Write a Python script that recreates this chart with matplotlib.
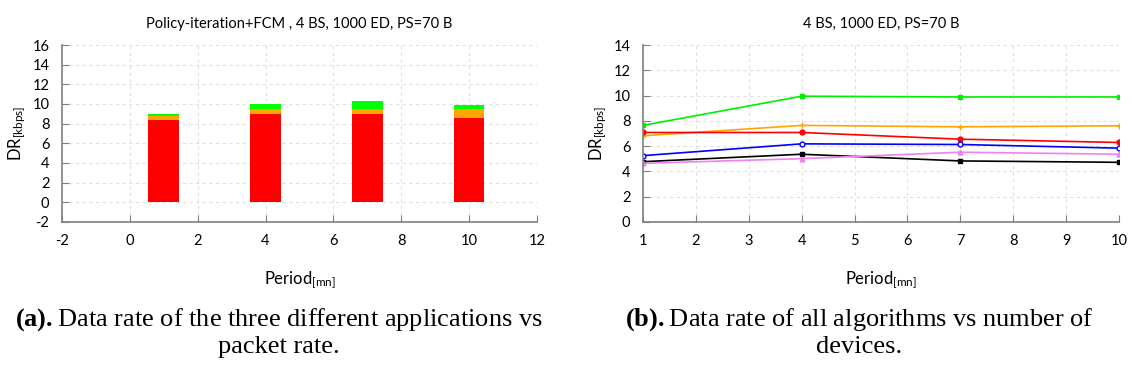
import matplotlib
matplotlib.use("Agg")
import matplotlib.pyplot as plt
import numpy as np

plt.rcParams['font.family'] = ['Lato', 'DejaVu Sans']
plt.rcParams['mathtext.default'] = 'regular'
plt.rcParams['mathtext.fontset'] = 'custom'
plt.rcParams['mathtext.bf'] = 'Liberation Serif:bold'

# (a) stacked bars: data rate per application
periods = [1, 4, 7, 10]
dr_red = [8.42, 8.95, 8.97, 8.57]
dr_orange = [0.38, 0.5, 0.5, 0.93]
dr_green = [0.22, 0.5, 0.82, 0.4]

# (b) data rate of all algorithms
line_x = [1, 4, 7, 10]
dr_lime = [7.64, 9.95, 9.89, 9.89]
dr_orange_l = [6.82, 7.64, 7.53, 7.61]
dr_red_l = [7.08, 7.08, 6.55, 6.29]
dr_blue = [5.25, 6.18, 6.13, 5.84]
dr_black = [4.77, 5.36, 4.83, 4.72]
dr_violet = [4.64, 5.01, 5.52, 5.36]

fig = plt.figure(figsize=(11.35, 3.83), dpi=100)
ax1 = fig.add_axes([0.0546, 0.4204, 0.4185, 0.4621])
ax2 = fig.add_axes([0.5665, 0.4204, 0.4194, 0.4621])


def style(ax):
    for s in ['top', 'right']:
        ax.spines[s].set_visible(False)
    for s in ['left', 'bottom']:
        ax.spines[s].set_color('#808080')
        ax.spines[s].set_linewidth(1.2)
    ax.grid(True, linestyle=(0, (3, 3)), color='#e0e0e0', linewidth=0.8)
    ax.set_axisbelow(True)
    ax.tick_params(direction='in', length=5, color='#808080', labelsize=10.5, pad=9)
    ax.set_xlabel('Period$_{[mn]}$', fontsize=12, labelpad=15)
    ax.set_ylabel('DR$_{[kbps]}$', fontsize=12, labelpad=3)


# left chart
ax1.bar(periods, dr_red, width=0.9, color='#ff0000')
ax1.bar(periods, dr_orange, width=0.9, bottom=dr_red, color='#ffa500')
base = np.array(dr_red) + np.array(dr_orange)
ax1.bar(periods, dr_green, width=0.9, bottom=base, color='#00ff00')
ax1.set_xlim(-2, 12)
ax1.set_ylim(-2, 16)
ax1.set_xticks(range(-2, 13, 2))
ax1.set_yticks(range(-2, 17, 2))
ax1.set_xticklabels([str(v) for v in range(-2, 13, 2)])
ax1.set_yticklabels([str(v) for v in range(-2, 17, 2)])
style(ax1)
ax1.set_title('Policy-iteration+FCM , 4 BS, 1000 ED, PS=70 B', fontsize=10.5, pad=12)

# right chart
ax2.plot(line_x, dr_lime, color='#00ee00', marker='s', markersize=3.5, lw=1.2)
ax2.plot(line_x, dr_orange_l, color='#ffa500', marker='+', markersize=4, lw=1.2)
ax2.plot(line_x, dr_red_l, color='#ff0000', marker='o', markersize=3.5, lw=1.2)
ax2.plot(line_x, dr_blue, color='#0000ff', marker='o', markersize=3.5, mfc='white', lw=1.2)
ax2.plot(line_x, dr_black, color='#000000', marker='s', markersize=3, lw=1.2)
ax2.plot(line_x, dr_violet, color='#ee82ee', marker='^', markersize=3.5, lw=1.2)
ax2.set_xlim(1, 10)
ax2.set_ylim(0, 14)
ax2.set_xticks(range(1, 11))
ax2.set_yticks(range(0, 15, 2))
style(ax2)
ax2.set_title('4 BS, 1000 ED, PS=70 B', fontsize=10.5, pad=12)

# captions
cap = dict(fontsize=19, family='Liberation Serif', ha='center', va='top',
           linespacing=1.18)
fig.text(0.246, 0.2, r'$\mathbf{(a).}$Data rate of the three different applications vs' + '\npacket rate.', **cap)
fig.text(0.757, 0.2, r'$\mathbf{(b).}$Data rate of all algorithms vs number of' + '\ndevices.', **cap)

fig.savefig('out.png', dpi=100)
